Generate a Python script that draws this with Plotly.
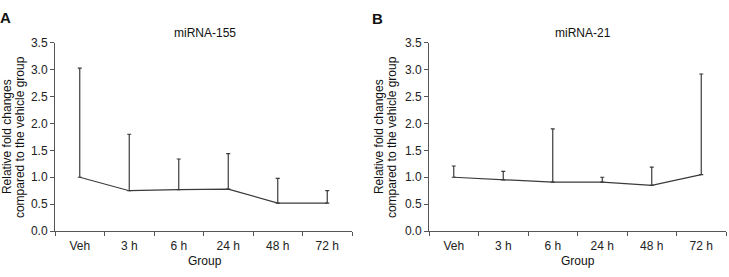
import plotly.graph_objects as go

groups = ["Veh", "3 h", "6 h", "24 h", "48 h", "72 h"]
mir155_mean = [1.00, 0.75, 0.77, 0.78, 0.52, 0.52]
mir155_upper = [3.03, 1.80, 1.34, 1.44, 0.98, 0.75]
mir21_mean = [1.00, 0.95, 0.91, 0.91, 0.85, 1.05]
mir21_upper = [1.21, 1.11, 1.90, 1.00, 1.19, 2.92]
y_ticks = [0.0, 0.5, 1.0, 1.5, 2.0, 2.5, 3.0, 3.5]

W, H = 729, 277
FONT = "Liberation Sans, Arial, sans-serif"
LINE = "#3a3a3a"
AXIS = "#555555"

fig = go.Figure()

def add_series(mean, upper, xa, ya):
    err = [u - m for u, m in zip(upper, mean)]
    fig.add_trace(go.Scatter(
        x=groups, y=mean, mode="lines", xaxis=xa, yaxis=ya,
        line=dict(color=LINE, width=1.2),
        error_y=dict(type="data", symmetric=False, array=err,
                     arrayminus=[0] * len(err), color=LINE,
                     thickness=1.2, width=2),
        showlegend=False, hoverinfo="skip"))

add_series(mir155_mean, mir155_upper, "x", "y")
add_series(mir21_mean, mir21_upper, "x2", "y2")

ydom = [41 / H, (H - 37.7) / H]
xdomA = [55 / W, 352 / W]
xdomB = [429 / W, 726 / W]

xcommon = dict(type="category", range=[-0.5, 5.5], tickson="boundaries",
               ticks="outside", ticklen=4, tickcolor=AXIS, showline=True,
               linecolor=AXIS, linewidth=1, showgrid=False, zeroline=False,
               ticklabelstandoff=4,
               tickfont=dict(family=FONT, size=12, color="#222"),
               fixedrange=True)
ycommon = dict(range=[0, 3.5], tickvals=y_ticks,
               ticktext=[f"{v:.1f}" for v in y_ticks],
               ticks="outside", ticklen=4, tickcolor=AXIS, showline=True,
               linecolor=AXIS, linewidth=1, showgrid=False, zeroline=False,
               tickfont=dict(family=FONT, size=12, color="#222"),
               fixedrange=True)

fig.update_layout(
    width=W, height=H,
    margin=dict(l=0, r=0, t=0, b=0),
    paper_bgcolor="white", plot_bgcolor="white",
    xaxis=dict(domain=xdomA, anchor="y", **xcommon),
    yaxis=dict(domain=ydom, anchor="x", **ycommon),
    xaxis2=dict(domain=xdomB, anchor="y2", **xcommon),
    yaxis2=dict(domain=ydom, anchor="x2", **ycommon),
    font=dict(family=FONT, size=12, color="#222"),
)

def ann(text, x, y, size=12, angle=0, bold=False):
    fig.add_annotation(
        text=f"<b>{text}</b>" if bold else text,
        x=x / W, y=1 - y / H, xref="paper", yref="paper",
        xanchor="center", yanchor="middle", showarrow=False,
        textangle=angle, font=dict(family=FONT, size=size, color="#111"))

ann("A", 5.5, 11, size=15, bold=True)
ann("B", 377.5, 12, size=15, bold=True)
ann("miRNA-155", 205, 27)
ann("miRNA-21", 583, 27)
ann("Group", 205, 268)
ann("Group", 578, 268)
for cx in (7, 379):
    ann("Relative fold changes", cx, 137, angle=-90)
    ann("compared to the vehicle group", cx + 13, 137, angle=-90)

fig.write_html("out.html")
